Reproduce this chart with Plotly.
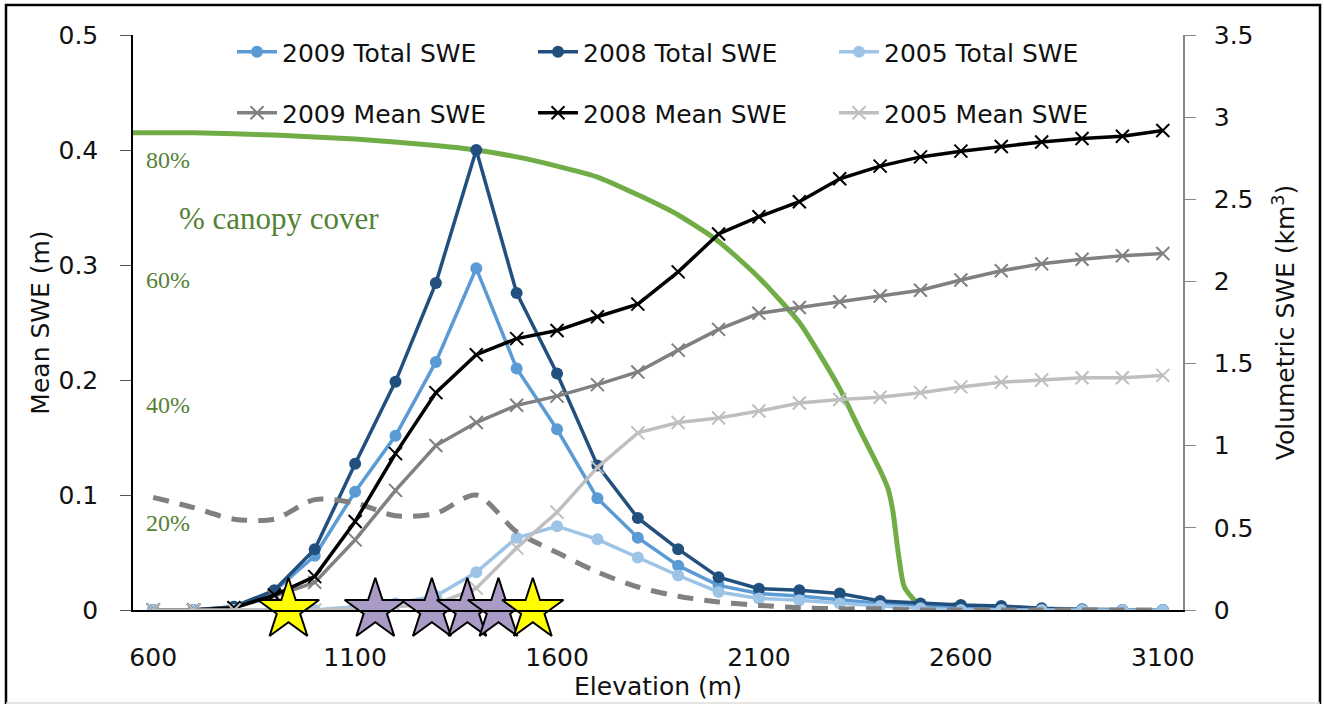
import plotly.graph_objects as go

# ---------------- data ----------------
elevation = [600, 700, 800, 900, 1000, 1100, 1200, 1300, 1400, 1500, 1600, 1700, 1800,
             1900, 2000, 2100, 2200, 2300, 2400, 2500, 2600, 2700, 2800, 2900, 3000, 3100]

total_2009 = [0, 0, 0.02, 0.115, 0.33, 0.72, 1.06, 1.51, 2.08, 1.47, 1.10, 0.68, 0.44,
              0.27, 0.15, 0.10, 0.085, 0.06, 0.04, 0.025, 0.02, 0.01, 0, 0, 0, 0]
total_2008 = [0, 0, 0.02, 0.12, 0.37, 0.89, 1.39, 1.99, 2.80, 1.93, 1.44, 0.88, 0.56,
              0.37, 0.20, 0.13, 0.12, 0.10, 0.055, 0.04, 0.03, 0.025, 0.01, 0.005, 0, 0]
total_2005 = [0, 0, 0, 0, 0, 0.02, 0.04, 0.085, 0.23, 0.44, 0.51, 0.43, 0.32,
              0.21, 0.11, 0.07, 0.06, 0.04, 0.025, 0.01, 0, 0, 0, 0, 0, 0]

mean_2009 = [0, 0, 0.002, 0.012, 0.024, 0.061, 0.104, 0.143, 0.163, 0.178, 0.186, 0.196, 0.207,
             0.226, 0.244, 0.258, 0.263, 0.268, 0.273, 0.278, 0.287, 0.295, 0.301, 0.305, 0.308, 0.310]
mean_2008 = [0, 0, 0.002, 0.013, 0.029, 0.077, 0.136, 0.189, 0.222, 0.236, 0.243, 0.255, 0.266,
             0.294, 0.327, 0.342, 0.355, 0.375, 0.386, 0.394, 0.399, 0.403, 0.407, 0.410, 0.412, 0.417]
mean_2005 = [0, 0, 0, 0, 0, 0.001, 0.003, 0.005, 0.019, 0.054, 0.085, 0.124, 0.154,
             0.163, 0.167, 0.173, 0.180, 0.183, 0.185, 0.189, 0.194, 0.198, 0.200, 0.202, 0.202, 0.204]

dashed_ref = [0.098, 0.089, 0.079, 0.079, 0.096, 0.093, 0.082, 0.084, 0.100, 0.068, 0.050, 0.033, 0.020,
              0.012, 0.007, 0.004, 0.002, 0.001, 0.001, 0, 0, 0, 0, 0, 0, 0]

canopy_elev = [550, 700, 900, 1100, 1300, 1400, 1500, 1600, 1700, 1800, 1900, 2000, 2100,
               2200, 2250, 2300, 2350, 2400, 2420, 2432, 2445, 2460, 2490, 2530, 2570, 2600]
canopy_pct = [83.0, 83.0, 82.6, 81.9, 80.8, 80.0, 78.8, 77.2, 75.3, 72.2, 68.7, 64.1, 57.8,
              50.0, 44.5, 38.5, 31.3, 24.3, 21.0, 17.0, 9.9, 4.0, 1.4, 0.5, 0.7, 1.2]
canopy_labels = ["80%", "60%", "40%", "20%"]

star_yellow_elev = [935, 1540]
star_purple_elev = [1150, 1290, 1378, 1455]

x_ticks = [600, 1100, 1600, 2100, 2600, 3100]
left_ticks = [0, 0.1, 0.2, 0.3, 0.4, 0.5]
right_ticks = [0, 0.5, 1, 1.5, 2, 2.5, 3, 3.5]

# ---------------- styling ----------------
FONT = "DejaVu Sans"
SERIF = "Liberation Serif"
TXT = "#111111"
GREEN = "#70AD47"
GREEN_TXT = "#548235"

W, H = 1324, 705
L, R, T, B = 133, 141, 35, 95
PW, PH = W - L - R, H - T - B


def px_x(px):
    return (px - L) / PW


def px_y(py):
    return (H - B - py) / PH


fig = go.Figure()

# canopy cover (hidden base axis, percent)
fig.add_trace(go.Scatter(x=canopy_elev, y=canopy_pct, mode="lines", yaxis="y",
                         line=dict(color=GREEN, width=5, shape="spline", smoothing=0.6),
                         showlegend=False, hoverinfo="skip"))

# totals on right axis
tot_specs = [("2009 Total SWE", total_2009, "#5B9BD5"),
             ("2008 Total SWE", total_2008, "#22507E"),
             ("2005 Total SWE", total_2005, "#9DC3E6")]
for name, vals, col in tot_specs:
    fig.add_trace(go.Scatter(x=elevation, y=vals, name=name, mode="lines+markers", yaxis="y2",
                             line=dict(color=col, width=3.5),
                             marker=dict(symbol="circle", size=12, color=col),
                             legend="legend"))

# dashed line on left axis
fig.add_trace(go.Scatter(x=elevation, y=dashed_ref, mode="lines", yaxis="y3",
                         line=dict(color="#808080", width=5, dash="16px,11px", shape="spline", smoothing=0.8),
                         showlegend=False, hoverinfo="skip"))

mean_specs = [("2009 Mean SWE", mean_2009, "#808080"),
              ("2008 Mean SWE", mean_2008, "#000000"),
              ("2005 Mean SWE", mean_2005, "#BFBFBF")]
for name, vals, col in mean_specs:
    fig.add_trace(go.Scatter(x=elevation, y=vals, name=name, mode="lines+markers", yaxis="y3",
                             line=dict(color=col, width=3.5),
                             marker=dict(symbol="x-thin", size=13, color=col,
                                         line=dict(color=col, width=2)),
                             legend="legend2"))

# stars
fig.add_trace(go.Scatter(x=star_purple_elev, y=[0] * len(star_purple_elev), mode="markers", yaxis="y3",
                         marker=dict(symbol="star", size=46, color="#A99BC6",
                                     line=dict(color="#000000", width=2)),
                         showlegend=False, cliponaxis=False, hoverinfo="skip"))
fig.add_trace(go.Scatter(x=star_yellow_elev, y=[0] * len(star_yellow_elev), mode="markers", yaxis="y3",
                         marker=dict(symbol="star", size=46, color="#FFFF00",
                                     line=dict(color="#000000", width=2)),
                         showlegend=False, cliponaxis=False, hoverinfo="skip"))

ann = []
label_pos = [160, 280, 405, 523]
for txt, py in zip(canopy_labels, label_pos):
    ann.append(dict(text=txt, x=px_x(168), y=px_y(py), xref="paper", yref="paper",
                    xanchor="center", yanchor="middle",
                    showarrow=False, font=dict(family=SERIF, size=24, color=GREEN_TXT)))
ann.append(dict(text="% canopy cover", x=px_x(279), y=px_y(218), xref="paper", yref="paper",
                xanchor="center", yanchor="middle",
                showarrow=False, font=dict(family=SERIF, size=31, color=GREEN_TXT)))

shapes = [
    dict(type="path", xref="paper", yref="paper",
         path=f"M {px_x(6)},{px_y(704)} L {px_x(6)},{px_y(5)} L {px_x(1320)},{px_y(5)} L {px_x(1320)},{px_y(704)}",
         line=dict(color="#000000", width=2.5)),
    dict(type="line", xref="paper", yref="paper", x0=px_x(6), x1=px_x(1320), y0=px_y(703), y1=px_y(703),
         line=dict(color="#DDDDDD", width=1.5)),
]

legend_common = dict(orientation="h", xanchor="left", yanchor="middle", bgcolor="rgba(0,0,0,0)",
                     font=dict(family=FONT, size=25, color=TXT), entrywidth=246,
                     entrywidthmode="pixels", itemwidth=40, tracegroupgap=0)

fig.update_layout(
    width=W, height=H, autosize=False,
    margin=dict(l=L, r=R, t=T, b=B, pad=0),
    paper_bgcolor="white", plot_bgcolor="white",
    font=dict(family=FONT, size=25, color=TXT),
    showlegend=True,
    legend=dict(x=px_x(232), y=px_y(52), **legend_common),
    legend2=dict(x=px_x(232), y=px_y(113), **legend_common),
    xaxis=dict(range=[550, 3150], tickvals=x_ticks, showgrid=False, zeroline=False,
               showline=True, linecolor="#000000", linewidth=1.5,
               ticks="outside", ticklen=24, tickcolor="rgba(0,0,0,0)",
               tickfont=dict(family=FONT, size=25, color=TXT),
               title=dict(text="Elevation (m)", font=dict(family=FONT, size=25, color=TXT), standoff=5),
               automargin=False),
    yaxis=dict(range=[0, 100], visible=False, showgrid=False, zeroline=False, fixedrange=True),
    yaxis2=dict(range=[0, 3.5], tickvals=right_ticks, ticktext=[f"{v:g}" for v in right_ticks],
                overlaying="y", side="right", anchor="x",
                showgrid=False, zeroline=False, showline=True, linecolor="#868686", linewidth=1.5,
                ticks="outside", ticklen=11, tickcolor="#868686", ticklabelstandoff=13,
                tickfont=dict(family=FONT, size=25, color=TXT),
                title=dict(text="Volumetric SWE (km<sup>3</sup>)", font=dict(family=FONT, size=25, color=TXT),
                           standoff=24),
                automargin=False),
    yaxis3=dict(range=[0, 0.5], tickvals=left_ticks, ticktext=[f"{v:g}" for v in left_ticks],
                overlaying="y", side="left", anchor="x",
                showgrid=False, zeroline=False, showline=True, linecolor="#000000", linewidth=1.5,
                ticks="outside", ticklen=11, tickcolor="#555555", ticklabelstandoff=17,
                tickfont=dict(family=FONT, size=25, color=TXT),
                title=dict(text="Mean SWE (m)", font=dict(family=FONT, size=25, color=TXT), standoff=2),
                automargin=False),
    annotations=ann,
    shapes=shapes,
)

fig.write_html("out.html", post_script="document.body.style.margin='0px';",
               config={"displayModeBar": False})
